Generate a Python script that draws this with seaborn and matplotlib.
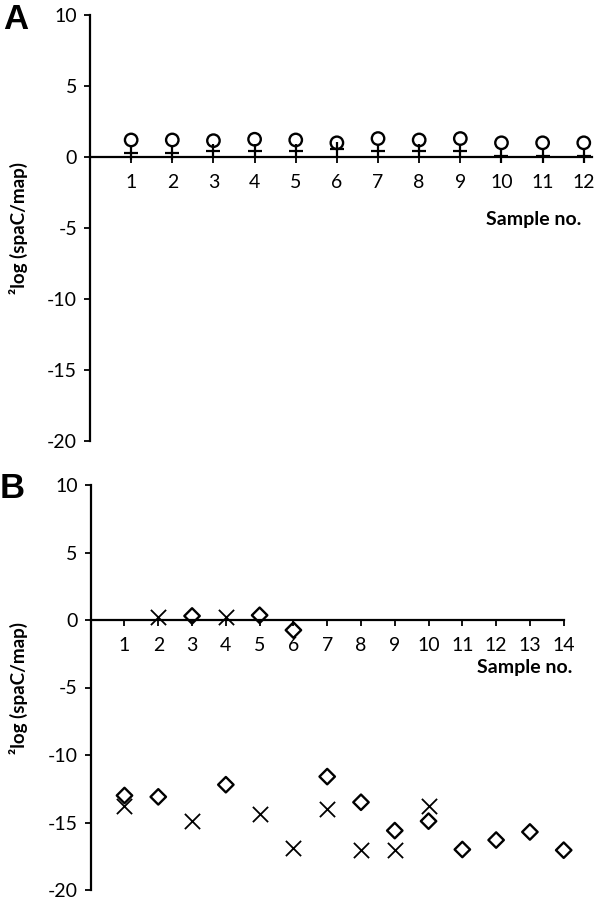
import numpy as np
import pandas as pd
import matplotlib
matplotlib.use("Agg")
import matplotlib.pyplot as plt
import seaborn as sns

# panel A: 12 samples, two marker series
samples_a = list(range(1, 13))
circle_a = [1.2, 1.2, 1.15, 1.25, 1.2, 1.0, 1.3, 1.2, 1.3, 1.0, 1.0, 1.0]
plus_a = [0.3, 0.3, 0.45, 0.45, 0.4, 0.55, 0.4, 0.4, 0.4, 0.05, 0.05, 0.05]

# panel B: 14 samples
samples_b = list(range(1, 15))
diamond_b = [-13.0, -13.1, 0.3, -12.2, 0.35, -0.75, -11.6, -13.5, -15.6, -14.9,
             -17.0, -16.3, -15.7, -17.05]
cross_samples_b = list(range(1, 11))
cross_b = [-13.8, 0.25, -14.9, 0.25, -14.4, -16.9, -14.0, -17.0, -17.0, -13.8]

yticks = [10, 5, 0, -5, -10, -15, -20]
ylab = "\u00b2log (spaC/map)"

sns.set_theme(style="white")
plt.rcParams['font.family'] = ['Lato', 'DejaVu Sans']
plt.rcParams['axes.unicode_minus'] = False

fig = plt.figure(figsize=(6.0, 8.99), dpi=100)
axA = fig.add_axes([90 / 600, 1 - 441 / 899, 502 / 600, 426 / 899])
axB = fig.add_axes([90.7 / 600, 1 - 890 / 899, 473 / 600, 405 / 899])


def style_axis(ax, xmax, xticks, labx):
    ax.set_xlim(0, xmax)
    ax.set_ylim(-20, 10)
    for s in ['top', 'right']:
        ax.spines[s].set_visible(False)
    ax.spines['bottom'].set_position(('data', 0))
    for s in ['left', 'bottom']:
        ax.spines[s].set_linewidth(1.6)
        ax.spines[s].set_color('black')
    ax.set_xticks(xticks)
    ax.set_yticks(yticks)
    ax.tick_params(axis='x', direction='out', length=4.3, width=1.3,
                   pad=8, labelsize=14, colors='black', bottom=True)
    ax.tick_params(axis='y', direction='out', length=4.3, width=1.3,
                   pad=5, labelsize=14, colors='black', left=True)
    ax.set_ylabel(ylab, fontsize=13.5, fontweight='bold', color='black')
    ax.yaxis.set_label_coords(labx, 0.5)
    ax.set_xlabel('')
    ax.grid(False)


# panel A
sns.scatterplot(x=samples_a, y=plus_a, ax=axA, marker='+', color='black',
                s=110, linewidth=1.6, zorder=3, clip_on=False)
sns.scatterplot(x=samples_a, y=circle_a, ax=axA, marker='o', s=80,
                facecolor='none', edgecolor='black', linewidth=1.7, zorder=4,
                clip_on=False)
style_axis(axA, 12.2, samples_a, -0.1235)
axA.text(11.95, -4.4, 'Sample no.', ha='right', va='center',
         fontsize=14, fontweight='bold', color='black')

# panel B
sns.scatterplot(x=cross_samples_b, y=cross_b, ax=axB, marker='x', color='black',
                s=120, linewidth=1.3, zorder=3, clip_on=False)
sns.scatterplot(x=samples_b, y=diamond_b, ax=axB, marker='D', s=62,
                facecolor='none', edgecolor='black', linewidth=1.7, zorder=4,
                clip_on=False)
style_axis(axB, 14, samples_b, -0.1326)
axB.text(14.26, -3.55, 'Sample no.', ha='right', va='center',
         fontsize=14, fontweight='bold', color='black')

fig.text(0.006, 1 - 3 / 899, 'A', ha='left', va='top', fontsize=25,
         fontweight='bold', family='Liberation Sans', color='black')
fig.text(0.0, 1 - 472 / 899, 'B', ha='left', va='top', fontsize=25,
         fontweight='bold', family='Liberation Sans', color='black')

fig.savefig('out.png', dpi=100, facecolor='white')
